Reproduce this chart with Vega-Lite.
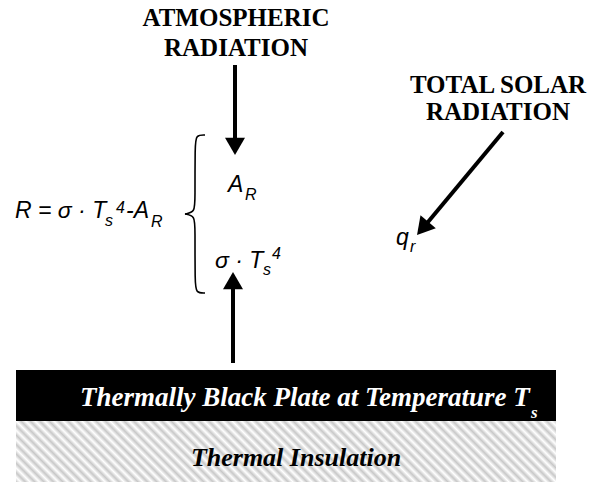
{
  "$schema": "https://vega.github.io/schema/vega-lite/v6.json",
  "width": 594,
  "height": 482,
  "padding": 0,
  "autosize": {"type": "fit", "contains": "padding"},
  "background": "white",
  "config": {"view": {"stroke": null}},
  "datasets": {
    "plate": [{"x": 16, "x2": 556, "y": 370, "y2": 421}],
    "insulation": [{"x": 16, "x2": 556, "y": 421, "y2": 482}],
    "shafts": [
      {"x": 235, "y": 65, "x2": 235, "y2": 147},
      {"x": 233, "y": 363, "x2": 233, "y2": 280},
      {"x": 503, "y": 132, "x2": 423, "y2": 228}
    ],
    "heads": [
      {"x": 235, "y": 146.3, "angle": 180},
      {"x": 233, "y": 280.7, "angle": 0},
      {"x": 422.6, "y": 228.4, "angle": 220}
    ],
    "brace": [
      {"part": "top", "i": 0, "x": 205, "y": 135},
      {"part": "top", "i": 1, "x": 196, "y": 135},
      {"part": "top", "i": 2, "x": 195, "y": 145},
      {"part": "top", "i": 3, "x": 195, "y": 200},
      {"part": "top", "i": 4, "x": 195, "y": 212},
      {"part": "top", "i": 5, "x": 185, "y": 214},
      {"part": "bottom", "i": 0, "x": 185, "y": 214},
      {"part": "bottom", "i": 1, "x": 195, "y": 216},
      {"part": "bottom", "i": 2, "x": 195, "y": 228},
      {"part": "bottom", "i": 3, "x": 195, "y": 283},
      {"part": "bottom", "i": 4, "x": 196, "y": 293},
      {"part": "bottom", "i": 5, "x": 205, "y": 293}
    ],
    "titles": [
      {"x": 236, "y": 26, "t": "ATMOSPHERIC"},
      {"x": 236, "y": 56, "t": "RADIATION"},
      {"x": 498, "y": 93, "t": "TOTAL SOLAR"},
      {"x": 498, "y": 120, "t": "RADIATION"}
    ],
    "plateText": [{"x": 80, "y": 406, "t": "Thermally Black Plate at Temperature T"}],
    "plateSub": [{"x": 531, "y": 418, "t": "s"}],
    "insulText": [{"x": 296, "y": 466, "t": "Thermal Insulation"}],
    "mathMain": [
      {"x": 15, "y": 218, "t": "R = σ · T"},
      {"x": 126, "y": 218, "t": "-A"},
      {"x": 228, "y": 192, "t": "A"},
      {"x": 215, "y": 268, "t": "σ · T"},
      {"x": 396, "y": 245, "t": "q"}
    ],
    "mathSmall": [
      {"x": 105, "y": 226, "t": "s"},
      {"x": 116, "y": 213, "t": "4"},
      {"x": 151, "y": 227, "t": "R"},
      {"x": 245, "y": 200, "t": "R"},
      {"x": 263, "y": 275, "t": "s"},
      {"x": 272, "y": 259, "t": "4"},
      {"x": 410, "y": 252, "t": "r"}
    ]
  },
  "encoding": {
    "x": {"field": "x", "type": "quantitative", "scale": {"domain": [0, 594], "nice": false, "zero": false}, "axis": null},
    "y": {"field": "y", "type": "quantitative", "scale": {"domain": [0, 482], "reverse": true, "nice": false, "zero": false}, "axis": null}
  },
  "layer": [
    {
      "data": {"name": "insulation"},
      "mark": {"type": "rect", "fill": {"gradient": "linear", "x1": -0.1128, "y1": 0, "x2": 0.986, "y2": -0.124, "stops": [
        {"offset": 0, "color": "#c8c8c8"}, {"offset": 0.0078, "color": "#ffffff"}, {"offset": 0.0156, "color": "#c8c8c8"}, {"offset": 0.0234, "color": "#ffffff"},
        {"offset": 0.0313, "color": "#c8c8c8"}, {"offset": 0.0391, "color": "#ffffff"}, {"offset": 0.0469, "color": "#c8c8c8"}, {"offset": 0.0547, "color": "#ffffff"},
        {"offset": 0.0625, "color": "#c8c8c8"}, {"offset": 0.0703, "color": "#ffffff"}, {"offset": 0.0781, "color": "#c8c8c8"}, {"offset": 0.0859, "color": "#ffffff"},
        {"offset": 0.0938, "color": "#c8c8c8"}, {"offset": 0.1016, "color": "#ffffff"}, {"offset": 0.1094, "color": "#c8c8c8"}, {"offset": 0.1172, "color": "#ffffff"},
        {"offset": 0.125, "color": "#c8c8c8"}, {"offset": 0.1328, "color": "#ffffff"}, {"offset": 0.1406, "color": "#c8c8c8"}, {"offset": 0.1484, "color": "#ffffff"},
        {"offset": 0.1563, "color": "#c8c8c8"}, {"offset": 0.1641, "color": "#ffffff"}, {"offset": 0.1719, "color": "#c8c8c8"}, {"offset": 0.1797, "color": "#ffffff"},
        {"offset": 0.1875, "color": "#c8c8c8"}, {"offset": 0.1953, "color": "#ffffff"}, {"offset": 0.2031, "color": "#c8c8c8"}, {"offset": 0.2109, "color": "#ffffff"},
        {"offset": 0.2188, "color": "#c8c8c8"}, {"offset": 0.2266, "color": "#ffffff"}, {"offset": 0.2344, "color": "#c8c8c8"}, {"offset": 0.2422, "color": "#ffffff"},
        {"offset": 0.25, "color": "#c8c8c8"}, {"offset": 0.2578, "color": "#ffffff"}, {"offset": 0.2656, "color": "#c8c8c8"}, {"offset": 0.2734, "color": "#ffffff"},
        {"offset": 0.2813, "color": "#c8c8c8"}, {"offset": 0.2891, "color": "#ffffff"}, {"offset": 0.2969, "color": "#c8c8c8"}, {"offset": 0.3047, "color": "#ffffff"},
        {"offset": 0.3125, "color": "#c8c8c8"}, {"offset": 0.3203, "color": "#ffffff"}, {"offset": 0.3281, "color": "#c8c8c8"}, {"offset": 0.3359, "color": "#ffffff"},
        {"offset": 0.3438, "color": "#c8c8c8"}, {"offset": 0.3516, "color": "#ffffff"}, {"offset": 0.3594, "color": "#c8c8c8"}, {"offset": 0.3672, "color": "#ffffff"},
        {"offset": 0.375, "color": "#c8c8c8"}, {"offset": 0.3828, "color": "#ffffff"}, {"offset": 0.3906, "color": "#c8c8c8"}, {"offset": 0.3984, "color": "#ffffff"},
        {"offset": 0.4063, "color": "#c8c8c8"}, {"offset": 0.4141, "color": "#ffffff"}, {"offset": 0.4219, "color": "#c8c8c8"}, {"offset": 0.4297, "color": "#ffffff"},
        {"offset": 0.4375, "color": "#c8c8c8"}, {"offset": 0.4453, "color": "#ffffff"}, {"offset": 0.4531, "color": "#c8c8c8"}, {"offset": 0.4609, "color": "#ffffff"},
        {"offset": 0.4688, "color": "#c8c8c8"}, {"offset": 0.4766, "color": "#ffffff"}, {"offset": 0.4844, "color": "#c8c8c8"}, {"offset": 0.4922, "color": "#ffffff"},
        {"offset": 0.5, "color": "#c8c8c8"}, {"offset": 0.5078, "color": "#ffffff"}, {"offset": 0.5156, "color": "#c8c8c8"}, {"offset": 0.5234, "color": "#ffffff"},
        {"offset": 0.5313, "color": "#c8c8c8"}, {"offset": 0.5391, "color": "#ffffff"}, {"offset": 0.5469, "color": "#c8c8c8"}, {"offset": 0.5547, "color": "#ffffff"},
        {"offset": 0.5625, "color": "#c8c8c8"}, {"offset": 0.5703, "color": "#ffffff"}, {"offset": 0.5781, "color": "#c8c8c8"}, {"offset": 0.5859, "color": "#ffffff"},
        {"offset": 0.5938, "color": "#c8c8c8"}, {"offset": 0.6016, "color": "#ffffff"}, {"offset": 0.6094, "color": "#c8c8c8"}, {"offset": 0.6172, "color": "#ffffff"},
        {"offset": 0.625, "color": "#c8c8c8"}, {"offset": 0.6328, "color": "#ffffff"}, {"offset": 0.6406, "color": "#c8c8c8"}, {"offset": 0.6484, "color": "#ffffff"},
        {"offset": 0.6563, "color": "#c8c8c8"}, {"offset": 0.6641, "color": "#ffffff"}, {"offset": 0.6719, "color": "#c8c8c8"}, {"offset": 0.6797, "color": "#ffffff"},
        {"offset": 0.6875, "color": "#c8c8c8"}, {"offset": 0.6953, "color": "#ffffff"}, {"offset": 0.7031, "color": "#c8c8c8"}, {"offset": 0.7109, "color": "#ffffff"},
        {"offset": 0.7188, "color": "#c8c8c8"}, {"offset": 0.7266, "color": "#ffffff"}, {"offset": 0.7344, "color": "#c8c8c8"}, {"offset": 0.7422, "color": "#ffffff"},
        {"offset": 0.75, "color": "#c8c8c8"}, {"offset": 0.7578, "color": "#ffffff"}, {"offset": 0.7656, "color": "#c8c8c8"}, {"offset": 0.7734, "color": "#ffffff"},
        {"offset": 0.7813, "color": "#c8c8c8"}, {"offset": 0.7891, "color": "#ffffff"}, {"offset": 0.7969, "color": "#c8c8c8"}, {"offset": 0.8047, "color": "#ffffff"},
        {"offset": 0.8125, "color": "#c8c8c8"}, {"offset": 0.8203, "color": "#ffffff"}, {"offset": 0.8281, "color": "#c8c8c8"}, {"offset": 0.8359, "color": "#ffffff"},
        {"offset": 0.8438, "color": "#c8c8c8"}, {"offset": 0.8516, "color": "#ffffff"}, {"offset": 0.8594, "color": "#c8c8c8"}, {"offset": 0.8672, "color": "#ffffff"},
        {"offset": 0.875, "color": "#c8c8c8"}, {"offset": 0.8828, "color": "#ffffff"}, {"offset": 0.8906, "color": "#c8c8c8"}, {"offset": 0.8984, "color": "#ffffff"},
        {"offset": 0.9063, "color": "#c8c8c8"}, {"offset": 0.9141, "color": "#ffffff"}, {"offset": 0.9219, "color": "#c8c8c8"}, {"offset": 0.9297, "color": "#ffffff"},
        {"offset": 0.9375, "color": "#c8c8c8"}, {"offset": 0.9453, "color": "#ffffff"}, {"offset": 0.9531, "color": "#c8c8c8"}, {"offset": 0.9609, "color": "#ffffff"},
        {"offset": 0.9688, "color": "#c8c8c8"}, {"offset": 0.9766, "color": "#ffffff"}, {"offset": 0.9844, "color": "#c8c8c8"}, {"offset": 0.9922, "color": "#ffffff"},
        {"offset": 1, "color": "#c8c8c8"}
      ]}, "stroke": null},
      "encoding": {"x2": {"field": "x2"}, "y2": {"field": "y2"}}
    },
    {
      "data": {"name": "plate"},
      "mark": {"type": "rect", "fill": "black", "stroke": null},
      "encoding": {"x2": {"field": "x2"}, "y2": {"field": "y2"}}
    },
    {
      "data": {"name": "shafts"},
      "mark": {"type": "rule", "color": "black", "strokeWidth": 4, "strokeCap": "butt"},
      "encoding": {"x2": {"field": "x2"}, "y2": {"field": "y2"}}
    },
    {
      "data": {"name": "heads"},
      "mark": {"type": "point", "shape": "triangle-up", "filled": true, "size": 400, "color": "black", "opacity": 1, "strokeWidth": 0},
      "encoding": {"angle": {"field": "angle", "type": "quantitative", "scale": null}}
    },
    {
      "data": {"name": "brace"},
      "mark": {"type": "line", "color": "black", "strokeWidth": 1.6, "interpolate": "basis"},
      "encoding": {"detail": {"field": "part"}, "order": {"field": "i", "type": "quantitative"}}
    },
    {
      "data": {"name": "titles"},
      "mark": {"type": "text", "font": "Liberation Serif", "fontWeight": "bold", "fontSize": 25, "align": "center", "baseline": "alphabetic", "color": "black"},
      "encoding": {"text": {"field": "t"}}
    },
    {
      "data": {"name": "plateText"},
      "mark": {"type": "text", "font": "Liberation Serif", "fontWeight": "bold", "fontStyle": "italic", "fontSize": 27, "align": "left", "baseline": "alphabetic", "color": "white"},
      "encoding": {"text": {"field": "t"}}
    },
    {
      "data": {"name": "plateSub"},
      "mark": {"type": "text", "font": "Liberation Serif", "fontWeight": "bold", "fontStyle": "italic", "fontSize": 17, "align": "left", "baseline": "alphabetic", "color": "white"},
      "encoding": {"text": {"field": "t"}}
    },
    {
      "data": {"name": "insulText"},
      "mark": {"type": "text", "font": "Liberation Serif", "fontWeight": "bold", "fontStyle": "italic", "fontSize": 26, "align": "center", "baseline": "alphabetic", "color": "black"},
      "encoding": {"text": {"field": "t"}}
    },
    {
      "data": {"name": "mathMain"},
      "mark": {"type": "text", "font": "Liberation Sans", "fontStyle": "italic", "fontSize": 23, "align": "left", "baseline": "alphabetic", "color": "black"},
      "encoding": {"text": {"field": "t"}}
    },
    {
      "data": {"name": "mathSmall"},
      "mark": {"type": "text", "font": "Liberation Sans", "fontStyle": "italic", "fontSize": 16, "align": "left", "baseline": "alphabetic", "color": "black"},
      "encoding": {"text": {"field": "t"}}
    }
  ]
}
